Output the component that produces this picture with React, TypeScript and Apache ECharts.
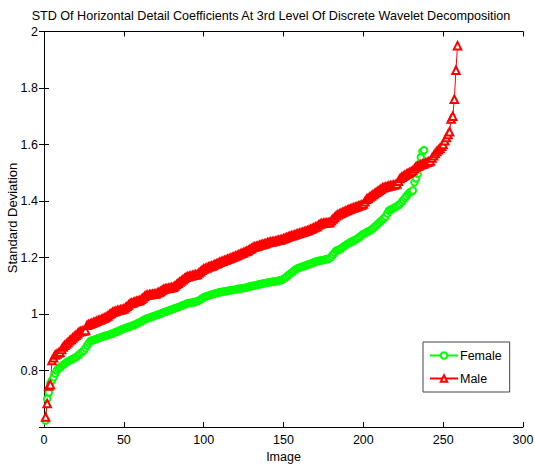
import React, { useEffect, useRef } from "react";
import * as echarts from "echarts";

const TITLE = "STD Of Horizontal Detail Coefficients At 3rd Level Of Discrete Wavelet Decomposition";
const X_LABEL = "Image";
const Y_LABEL = "Standard Deviation";
const SERIES_NAMES = ["Female", "Male"];

const female = [
  0.623, 0.700, 0.722, 0.755, 0.765, 0.776, 0.789, 0.800, 0.806, 0.811,
  0.815, 0.820, 0.824, 0.829, 0.832, 0.835, 0.838, 0.841, 0.844, 0.847,
  0.851, 0.856, 0.861, 0.866, 0.871, 0.879, 0.888, 0.897, 0.904, 0.906,
  0.908, 0.910, 0.912, 0.914, 0.916, 0.918, 0.920, 0.922, 0.924, 0.925,
  0.927, 0.929, 0.931, 0.934, 0.936, 0.938, 0.941, 0.943, 0.946, 0.948,
  0.950, 0.952, 0.954, 0.956, 0.958, 0.960, 0.963, 0.965, 0.968, 0.971,
  0.974, 0.977, 0.980, 0.983, 0.985, 0.987, 0.989, 0.991, 0.993, 0.995,
  0.997, 0.999, 1.001, 1.003, 1.006, 1.008, 1.010, 1.012, 1.014, 1.016,
  1.018, 1.020, 1.022, 1.024, 1.026, 1.029, 1.031, 1.033, 1.036, 1.038,
  1.039, 1.040, 1.041, 1.042, 1.043, 1.045, 1.048, 1.051, 1.055, 1.059,
  1.061, 1.063, 1.065, 1.067, 1.069, 1.071, 1.072, 1.074, 1.075, 1.077,
  1.078, 1.079, 1.080, 1.081, 1.082, 1.083, 1.084, 1.085, 1.086, 1.087,
  1.088, 1.089, 1.090, 1.091, 1.092, 1.093, 1.094, 1.096, 1.097, 1.099,
  1.100, 1.101, 1.102, 1.104, 1.105, 1.106, 1.108, 1.109, 1.110, 1.111,
  1.112, 1.113, 1.114, 1.115, 1.116, 1.117, 1.118, 1.119, 1.121, 1.124,
  1.128, 1.132, 1.137, 1.141, 1.146, 1.150, 1.155, 1.159, 1.162, 1.164,
  1.166, 1.168, 1.170, 1.172, 1.174, 1.176, 1.178, 1.180, 1.183, 1.185,
  1.187, 1.188, 1.189, 1.190, 1.191, 1.193, 1.194, 1.195, 1.197, 1.203,
  1.210, 1.217, 1.224, 1.226, 1.228, 1.232, 1.236, 1.240, 1.244, 1.248,
  1.251, 1.254, 1.257, 1.260, 1.262, 1.266, 1.270, 1.274, 1.279, 1.283,
  1.286, 1.289, 1.292, 1.295, 1.298, 1.303, 1.308, 1.313, 1.318, 1.324,
  1.329, 1.334, 1.339, 1.345, 1.356, 1.366, 1.369, 1.372, 1.375, 1.378,
  1.381, 1.385, 1.389, 1.396, 1.403, 1.410, 1.417, 1.424, 1.430, 1.433,
  1.437, 1.466, 1.480, 1.496, 1.530, 1.555, 1.575, 1.580,
];

const male = [
  0.635, 0.683, 0.745, 0.750, 0.835, 0.845, 0.855, 0.858, 0.862, 0.865,
  0.874, 0.883, 0.889, 0.894, 0.899, 0.905, 0.910, 0.915, 0.920, 0.925,
  0.930, 0.936, 0.938, 0.940, 0.941, 0.942, 0.960, 0.963, 0.965, 0.967,
  0.970, 0.972, 0.974, 0.977, 0.979, 0.981, 0.984, 0.986, 0.989, 0.993,
  0.998, 1.002, 1.006, 1.008, 1.010, 1.012, 1.013, 1.015, 1.016, 1.018,
  1.022, 1.027, 1.032, 1.037, 1.039, 1.041, 1.043, 1.045, 1.046, 1.048,
  1.052, 1.057, 1.062, 1.066, 1.067, 1.068, 1.069, 1.070, 1.071, 1.071,
  1.074, 1.077, 1.080, 1.084, 1.088, 1.089, 1.090, 1.091, 1.092, 1.094,
  1.095, 1.099, 1.104, 1.109, 1.113, 1.117, 1.121, 1.126, 1.130, 1.132,
  1.134, 1.135, 1.136, 1.138, 1.139, 1.140, 1.145, 1.150, 1.155, 1.159,
  1.161, 1.163, 1.166, 1.168, 1.170, 1.172, 1.175, 1.177, 1.180, 1.183,
  1.185, 1.187, 1.189, 1.191, 1.194, 1.196, 1.198, 1.200, 1.203, 1.205,
  1.207, 1.210, 1.212, 1.215, 1.217, 1.220, 1.222, 1.225, 1.229, 1.232,
  1.236, 1.238, 1.239, 1.241, 1.243, 1.245, 1.246, 1.248, 1.250, 1.252,
  1.254, 1.255, 1.256, 1.257, 1.258, 1.260, 1.261, 1.262, 1.264, 1.266,
  1.268, 1.271, 1.273, 1.275, 1.277, 1.278, 1.280, 1.282, 1.284, 1.286,
  1.288, 1.289, 1.291, 1.293, 1.295, 1.297, 1.300, 1.302, 1.305, 1.308,
  1.310, 1.315, 1.319, 1.320, 1.321, 1.322, 1.322, 1.323, 1.324, 1.330,
  1.336, 1.342, 1.348, 1.351, 1.354, 1.357, 1.359, 1.362, 1.365, 1.367,
  1.370, 1.372, 1.374, 1.376, 1.378, 1.380, 1.382, 1.384, 1.386, 1.389,
  1.397, 1.406, 1.410, 1.414, 1.418, 1.422, 1.426, 1.430, 1.434, 1.438,
  1.442, 1.446, 1.448, 1.450, 1.451, 1.453, 1.454, 1.455, 1.457, 1.458,
  1.460, 1.470, 1.480, 1.484, 1.488, 1.491, 1.495, 1.498, 1.501, 1.504,
  1.507, 1.514, 1.520, 1.523, 1.525, 1.528, 1.530, 1.532, 1.535, 1.537,
  1.539, 1.542, 1.552, 1.560, 1.568, 1.575, 1.581, 1.587, 1.594, 1.600,
  1.613, 1.625, 1.635, 1.645, 1.690, 1.700, 1.760, 1.863, 1.950,
];

const X_MIN = 0, X_MAX = 300, X_STEP = 50;
const Y_MIN = 0.6, Y_MAX = 2, Y_STEP = 0.2;

const FONT = "Liberation Sans, Arial, sans-serif";

export default function App() {
  const ref = useRef<HTMLDivElement>(null);
  useEffect(() => {
    if (!ref.current) return;
    const chart = echarts.init(ref.current, undefined, { renderer: "svg" });
    const toPairs = (arr: number[]) => arr.map((v, i) => [i + 1, v]);
    const axisLine = { show: true, lineStyle: { color: "#000", width: 1 } };
    const tick = { show: true, inside: true, length: 5, lineStyle: { color: "#000" } };
    const label = { color: "#000", fontSize: 12.5, fontFamily: FONT };
    chart.setOption({
      animation: false,
      backgroundColor: "#fff",
      title: {
        text: TITLE,
        left: 271,
        top: 9,
        textAlign: "center",
        padding: 0,
        textStyle: { fontSize: 12.6, fontWeight: "normal", color: "#000", fontFamily: FONT },
      },
      graphic: [
        {
          type: "text",
          x: 12,
          y: 218,
          rotation: Math.PI / 2,
          style: {
            text: Y_LABEL,
            textAlign: "center",
            textVerticalAlign: "middle",
            fontSize: 13,
            fontFamily: FONT,
            fill: "#000",
          },
        },
      ],
      legend: {
        data: SERIES_NAMES,
        orient: "vertical",
        left: 423,
        top: 342,
        padding: [7, 8, 7, 6],
        itemWidth: 28,
        itemHeight: 8,
        itemGap: 10,
        backgroundColor: "#fff",
        borderColor: "#444",
        borderWidth: 1,
        borderRadius: 0,
        textStyle: { fontSize: 12.5, color: "#000", fontFamily: FONT, padding: [0, 0, 0, -3] },
      },
      grid: { left: 44, right: 12, top: 31.5, bottom: 42, containLabel: false, outerBoundsMode: "none" },
      xAxis: [
        {
          type: "value",
          min: X_MIN,
          max: X_MAX,
          interval: X_STEP,
          position: "bottom",
          name: X_LABEL,
          nameLocation: "middle",
          nameGap: 19,
          nameTextStyle: { fontSize: 12.5, color: "#000", fontFamily: FONT },
          axisLine,
          axisTick: tick,
          axisLabel: { ...label, margin: 6 },
          splitLine: { show: false },
        },
        {
          type: "value",
          min: X_MIN,
          max: X_MAX,
          interval: X_STEP,
          position: "top",
          axisLine,
          axisTick: tick,
          axisLabel: { show: false },
          splitLine: { show: false },
        },
      ],
      yAxis: [
        {
          type: "value",
          min: Y_MIN,
          max: Y_MAX,
          interval: Y_STEP,
          position: "left",
          axisLine,
          axisTick: tick,
          axisLabel: {
            ...label,
            margin: 6,
            formatter: (v: number) => (Math.abs(v - Y_MIN) < 1e-6 ? "" : String(+v.toFixed(1))),
          },
          splitLine: { show: false },
        },
        {
          type: "value",
          min: Y_MIN,
          max: Y_MAX,
          interval: Y_STEP,
          position: "right",
          axisLine,
          axisTick: tick,
          axisLabel: { show: false },
          splitLine: { show: false },
        },
      ],
      series: [
        {
          name: SERIES_NAMES[0],
          type: "line",
          data: toPairs(female),
          symbol: "emptyCircle",
          symbolSize: 6.5,
          color: "#00ff00",
          lineStyle: { width: 1, color: "#00ff00" },
          itemStyle: { color: "#00ff00", borderWidth: 1 },
        },
        {
          name: SERIES_NAMES[1],
          type: "line",
          data: toPairs(male),
          symbol: "emptyTriangle",
          symbolSize: 7.5,
          color: "#ff0000",
          lineStyle: { width: 1, color: "#ff0000" },
          itemStyle: { color: "#ff0000", borderWidth: 1 },
        },
      ],
    });
    return () => chart.dispose();
  }, []);
  return (
    <div
      ref={ref}
      style={{ position: "fixed", left: 0, top: 0, width: 535, height: 469, background: "#fff" }}
    />
  );
}
